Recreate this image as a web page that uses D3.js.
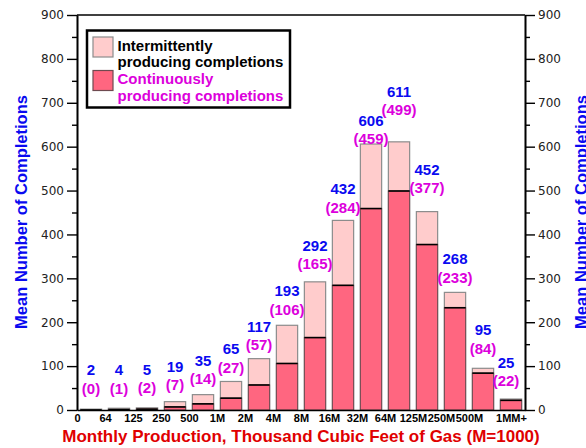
<!DOCTYPE html>
<html>
<head>
<meta charset="utf-8">
<script src="https://cdn.jsdelivr.net/npm/d3@7"></script>
<style>
  body { margin: 0; background: #fff; }
  svg { display: block; }
</style>
</head>
<body>
<div id="chart"></div>
<script>
// Chart data: bins of monthly gas production and the mean number of completions in each
const categories = ["0", "64", "125", "250", "500", "1M", "2M", "4M", "8M", "16M",
                    "32M", "64M", "125M", "250M", "500M", "1MM+"];
const totalCompletions = [2, 4, 5, 19, 35, 65, 117, 193, 292, 432, 606, 611, 452, 268, 95, 25];
const continuousCompletions = [0, 1, 2, 7, 14, 27, 57, 106, 165, 284, 459, 499, 377, 233, 84, 22];
const yTickValues = [0, 100, 200, 300, 400, 500, 600, 700, 800, 900];

// how far (px) the "(n)" label sits above each bar top -- hand placed in the original
const labelLift = [21, 20, 20, 17, 16, 14, 14, 16, 18, 13, 5, 32, 24, 15, 20, 18];

const width = 586;
const height = 448;
const plot = { left: 77, right: 525, top: 15, bottom: 410 };

const blue = "#0a0af0";
const magenta = "#dc00dc";
const lightPink = "#ffcccc";
const darkPink = "#ff6680";

const svg = d3.select("#chart")
    .append("svg")
    .attr("width", width)
    .attr("height", height)
    .style("font-family", "'Liberation Sans', Arial, sans-serif");

const x = d3.scaleBand()
    .domain(categories)
    .range([plot.left, plot.right])
    .paddingInner(0.24)
    .paddingOuter(0.12);

const y = d3.scaleLinear()
    .domain([0, 900])
    .range([plot.bottom, plot.top]);

// bin edges, for the tick labels that sit between the bars
const edge = d3.scaleLinear()
    .domain([0, categories.length])
    .range([plot.left, plot.right]);

// bars: whole bar light (intermittent), lower part dark (continuous)
const bars = svg.append("g");

bars.selectAll("rect.total")
    .data(categories)
    .join("rect")
    .attr("class", "total")
    .attr("x", function(d) { return x(d); })
    .attr("y", function(d, i) { return y(totalCompletions[i]); })
    .attr("width", x.bandwidth())
    .attr("height", function(d, i) { return y(0) - y(totalCompletions[i]); })
    .attr("fill", lightPink)
    .attr("stroke", "#8c8c8c")
    .attr("stroke-width", 1.2);

bars.selectAll("rect.cont")
    .data(categories)
    .join("rect")
    .attr("class", "cont")
    .attr("x", function(d) { return x(d); })
    .attr("y", function(d, i) { return y(continuousCompletions[i]); })
    .attr("width", x.bandwidth())
    .attr("height", function(d, i) { return y(0) - y(continuousCompletions[i]); })
    .attr("fill", darkPink)
    .attr("stroke", "#6e4a50")
    .attr("stroke-width", 1);

bars.selectAll("line.split")
    .data(categories)
    .join("line")
    .attr("class", "split")
    .attr("x1", function(d) { return x(d); })
    .attr("x2", function(d) { return x(d) + x.bandwidth(); })
    .attr("y1", function(d, i) { return y(continuousCompletions[i]); })
    .attr("y2", function(d, i) { return y(continuousCompletions[i]); })
    .attr("stroke", "#000")
    .attr("stroke-width", 1.6);

// value labels
function labelX(d, i) {
    let cx = x(d) + x.bandwidth() / 2;
    if (i === categories.length - 1) cx -= 5;   // nudged away from the right axis
    return cx;
}

const labels = svg.append("g")
    .style("font-size", "15px")
    .style("font-weight", "bold")
    .attr("text-anchor", "middle");

labels.selectAll("text.cont")
    .data(categories)
    .join("text")
    .attr("class", "cont")
    .attr("x", labelX)
    .attr("y", function(d, i) { return y(totalCompletions[i]) - labelLift[i]; })
    .attr("dy", "0.36em")
    .attr("fill", magenta)
    .text(function(d, i) { return "(" + continuousCompletions[i] + ")"; });

labels.selectAll("text.total")
    .data(categories)
    .join("text")
    .attr("class", "total")
    .attr("x", labelX)
    .attr("y", function(d, i) { return y(totalCompletions[i]) - labelLift[i] - 18.5; })
    .attr("dy", "0.36em")
    .attr("fill", blue)
    .text(function(d, i) { return totalCompletions[i]; });

// axes
function styleAxis(g) {
    g.selectAll("path.domain").attr("stroke", "#000").attr("stroke-width", 1.6);
    g.selectAll(".tick line").attr("stroke", "#000").attr("stroke-width", 1.4);
}

const minorTicks = d3.range(50, 900, 100);

[["left", plot.left], ["right", plot.right]].forEach(function(side) {
    const make = side[0] === "left" ? d3.axisLeft : d3.axisRight;

    svg.append("g")
        .attr("transform", "translate(" + side[1] + ",0)")
        .call(make(y).tickValues(minorTicks).tickSize(5).tickSizeOuter(0).tickFormat(""))
        .call(styleAxis);

    svg.append("g")
        .attr("transform", "translate(" + side[1] + ",0)")
        .call(make(y).tickValues(yTickValues).tickSize(10).tickSizeOuter(0).tickPadding(3))
        .call(styleAxis)
        .call(function(g) {
            g.selectAll("text")
                .style("font-family", "'DejaVu Sans', sans-serif")
                .style("font-size", "12px")
                .attr("fill", "#222");
        });
});

const edgeTicks = d3.range(0, categories.length - 1).concat([categories.length - 0.5]);

svg.append("g")
    .attr("transform", "translate(0," + plot.bottom + ")")
    .call(d3.axisBottom(edge)
        .tickValues(edgeTicks)
        .tickSize(0)
        .tickSizeOuter(0)
        .tickPadding(4)
        .tickFormat(function(v) { return categories[Math.floor(v)]; }))
    .call(styleAxis)
    .call(function(g) {
        g.selectAll("text")
            .style("font-family", "'Liberation Sans', Arial, sans-serif")
            .style("font-size", "11px")
            .style("font-weight", "bold")
            .attr("fill", "#000");
    });

// top frame line
svg.append("line")
    .attr("x1", plot.left)
    .attr("x2", plot.right)
    .attr("y1", plot.top)
    .attr("y2", plot.top)
    .attr("stroke", "#000")
    .attr("stroke-width", 1.6);

// axis titles
svg.append("text")
    .attr("x", (plot.left + plot.right) / 2)
    .attr("y", 442)
    .attr("text-anchor", "middle")
    .style("font-size", "17px")
    .style("font-weight", "bold")
    .attr("fill", "#e00000")
    .text("Monthly Production, Thousand Cubic Feet of Gas (M=1000)");

[21.5, 581].forEach(function(cx) {
    svg.append("text")
        .attr("transform", "translate(" + cx + "," + 212 + ") rotate(-90)")
        .attr("text-anchor", "middle")
        .attr("dy", "0.36em")
        .style("font-size", "16.5px")
        .style("font-weight", "bold")
        .attr("fill", blue)
        .text("Mean Number of Completions");
});

// legend
const legend = svg.append("g");

legend.append("rect")
    .attr("x", 87)
    .attr("y", 30.5)
    .attr("width", 203)
    .attr("height", 77)
    .attr("fill", "#fff")
    .attr("stroke", "#000")
    .attr("stroke-width", 2.5);

legend.append("rect")
    .attr("x", 93).attr("y", 37).attr("width", 20).attr("height", 20)
    .attr("fill", lightPink).attr("stroke", "#8c8c8c").attr("stroke-width", 1.2);

legend.append("rect")
    .attr("x", 93).attr("y", 70.5).attr("width", 20).attr("height", 20)
    .attr("fill", darkPink).attr("stroke", "#6e4a50").attr("stroke-width", 1.2);

const legendLines = [
    ["Intermittently", 50.5, "#000"],
    ["producing completions", 66.5, "#000"],
    ["Continuously", 84, magenta],
    ["producing completions", 100.5, magenta]
];

legend.selectAll("text")
    .data(legendLines)
    .join("text")
    .attr("x", 117.5)
    .attr("y", function(d) { return d[1]; })
    .attr("fill", function(d) { return d[2]; })
    .style("font-size", "15px")
    .style("font-weight", "bold")
    .text(function(d) { return d[0]; });
</script>
</body>
</html>
